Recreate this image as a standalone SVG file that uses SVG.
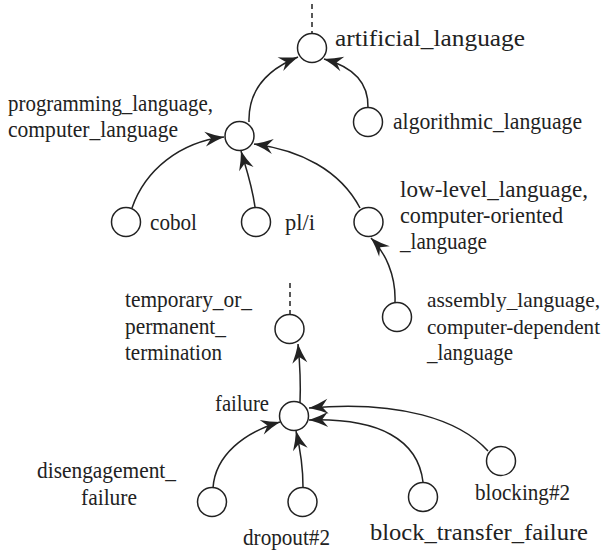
<svg xmlns="http://www.w3.org/2000/svg" width="612" height="552" viewBox="0 0 612 552">
<style>
.n{fill:#fff;stroke:#222;stroke-width:1.5}
.e{fill:none;stroke:#222;stroke-width:1.5;marker-end:url(#ah)}
.d{fill:none;stroke:#222;stroke-width:1.5;stroke-dasharray:5,4}
text{font-family:'Liberation Serif','Times New Roman',serif;font-size:24px;fill:#222}
.s{font-size:22px}
</style>
<defs>
<marker id="ah" markerUnits="userSpaceOnUse" markerWidth="26" markerHeight="20" viewBox="-22 -10 26 20" refX="0" refY="0" orient="auto">
<path d="M0,0 Q-10,-3 -19,-7.5 L-13,0 L-19,7.5 Q-10,3 0,0Z" fill="#222"/>
</marker>
</defs>
<rect width="612" height="552" fill="#fff"/>
<g id="connectors">
<path class="d" d="M312,4 V33"/>
<path class="d" d="M290,283 V314"/>
<path class="e" d="M249,122 C248,90 266,70 298,57"/>
<path class="e" d="M368,108 C369,80 350,66 324,59"/>
<path class="e" d="M132,208 C145,170 180,142 224,137"/>
<path class="e" d="M255,207 C252,185 246,168 241,151"/>
<path class="e" d="M360,208 C340,170 300,150 254,144"/>
<path class="e" d="M395,302 C396,275 385,252 371,238"/>
<path class="e" d="M300,403 C301,380 300,365 298,344"/>
<path class="e" d="M213,488 C215,455 245,432 280,422"/>
<path class="e" d="M303,487 C303,465 300,448 296,431"/>
<path class="e" d="M423,482 C418,440 380,418 309,420"/>
<path class="e" d="M488,451 C460,420 400,400 309,408"/>
</g>
<g id="artificial_language"><circle class="n" cx="312" cy="48" r="14.5"/><text x="335" y="46" textLength="190" lengthAdjust="spacingAndGlyphs">artificial_language</text></g>
<g id="programming_language"><circle class="n" cx="239.5" cy="136" r="14.5"/><text x="8" y="111" textLength="205" lengthAdjust="spacingAndGlyphs">programming_language,</text><text x="8" y="137" textLength="170" lengthAdjust="spacingAndGlyphs">computer_language</text></g>
<g id="algorithmic_language"><circle class="n" cx="368" cy="122" r="14.5"/><text x="393" y="129" textLength="189" lengthAdjust="spacingAndGlyphs">algorithmic_language</text></g>
<g id="cobol"><circle class="n" cx="126" cy="222" r="14.5"/><text x="150" y="230" textLength="47" lengthAdjust="spacingAndGlyphs">cobol</text></g>
<g id="pli"><circle class="n" cx="256" cy="222" r="14.5"/><text x="285" y="230" textLength="30" lengthAdjust="spacingAndGlyphs">pl/i</text></g>
<g id="low_level_language"><circle class="n" cx="368.5" cy="222" r="14.5"/><text x="400" y="197" textLength="188" lengthAdjust="spacingAndGlyphs">low-level_language,</text><text x="400" y="223" textLength="163" lengthAdjust="spacingAndGlyphs">computer-oriented</text><text x="400" y="249" textLength="87" lengthAdjust="spacingAndGlyphs">_language</text></g>
<g id="assembly_language"><circle class="n" cx="397" cy="317" r="14.5"/><text class="s" x="427" y="307" textLength="173" lengthAdjust="spacingAndGlyphs">assembly_language,</text><text class="s" x="427" y="334" textLength="173" lengthAdjust="spacingAndGlyphs">computer-dependent</text><text x="427" y="360" textLength="86" lengthAdjust="spacingAndGlyphs">_language</text></g>
<g id="temporary_or_permanent_termination"><circle class="n" cx="289.5" cy="329" r="14.5"/><text x="125" y="307" textLength="127" lengthAdjust="spacingAndGlyphs">temporary_or_</text><text x="125" y="334" textLength="101" lengthAdjust="spacingAndGlyphs">permanent_</text><text x="125" y="360" textLength="97" lengthAdjust="spacingAndGlyphs">termination</text></g>
<g id="failure"><circle class="n" cx="294" cy="416" r="14.5"/><text x="215" y="411" textLength="54" lengthAdjust="spacingAndGlyphs">failure</text></g>
<g id="disengagement_failure"><circle class="n" cx="212" cy="502" r="14.5"/><text x="37" y="478" textLength="139" lengthAdjust="spacingAndGlyphs">disengagement_</text><text x="81" y="505" textLength="56" lengthAdjust="spacingAndGlyphs">failure</text></g>
<g id="dropout2"><circle class="n" cx="302.5" cy="502" r="14.5"/><text x="243" y="545" textLength="87" lengthAdjust="spacingAndGlyphs">dropout#2</text></g>
<g id="block_transfer_failure"><circle class="n" cx="423" cy="497" r="14.5"/><text x="370" y="540" textLength="218" lengthAdjust="spacingAndGlyphs">block_transfer_failure</text></g>
<g id="blocking2"><circle class="n" cx="501" cy="461" r="14.5"/><text x="475" y="500" textLength="95" lengthAdjust="spacingAndGlyphs">blocking#2</text></g>
</svg>
